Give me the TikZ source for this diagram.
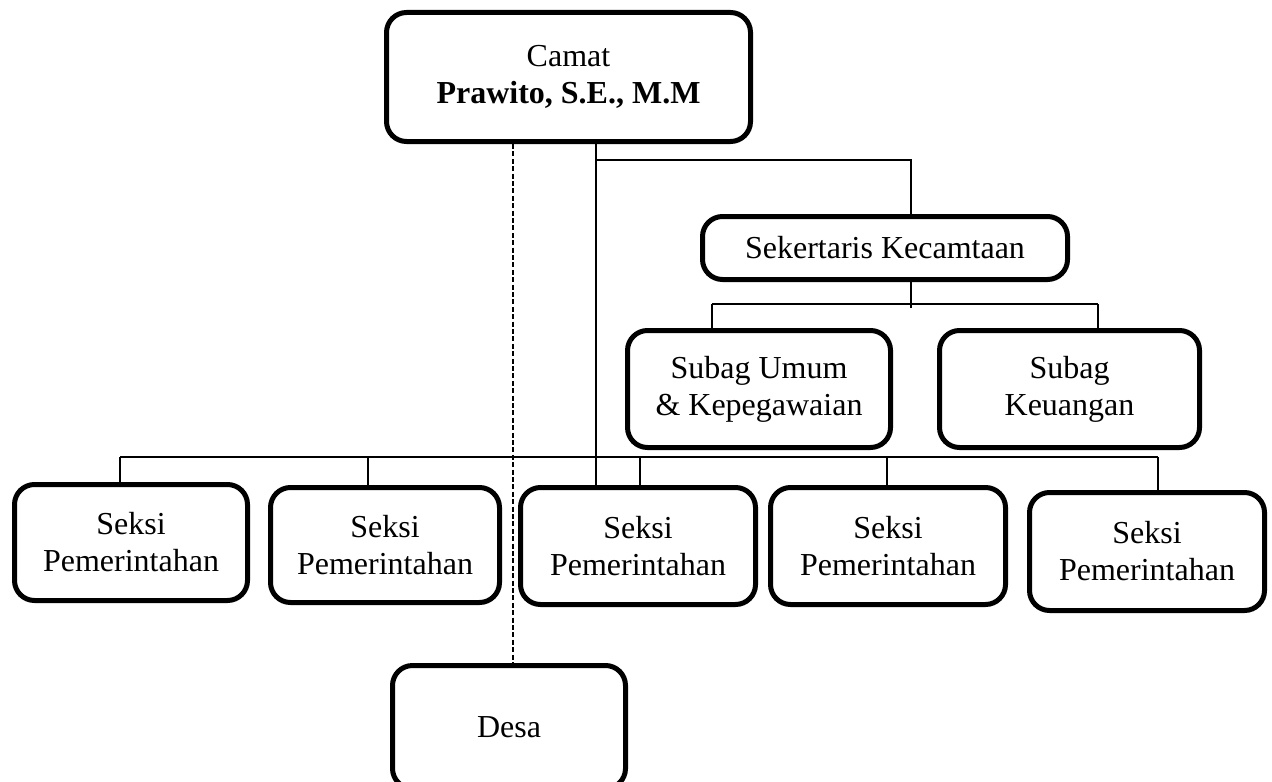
\documentclass[tikz,border=0pt]{standalone}
\usepackage{fontspec}
\setmainfont{Liberation Serif}
\begin{document}
\begin{tikzpicture}[x=0.5pt,y=-0.5pt,
  box/.style={draw, line width=2.5pt, rounded corners=10pt, align=center, inner sep=0pt,
    font=\fontsize{16pt}{18.5pt}\selectfont},
  conn/.style={line width=1pt},
  dashline/.style={line width=1pt, dash pattern=on 2.5pt off 1.2pt}]
\useasboundingbox (0,0) rectangle (1272,781);
\clip (0,0) rectangle (1272,781);
% nodes
\node[box, minimum width=182pt, minimum height=64.5pt] (camat) at (568.5,77) {Camat\\\textbf{Prawito, S.E., M.M}};
\node[box, minimum width=182.5pt, minimum height=31.5pt] (sek) at (885,248) {Sekertaris Kecamtaan};
\node[box, minimum width=131.5pt, minimum height=58.5pt] (umum) at (759,389) {Subag Umum\\\& Kepegawaian};
\node[box, minimum width=130pt, minimum height=58.5pt] (keu) at (1069.5,389) {Subag\\Keuangan};
\node[box, minimum width=116.5pt, minimum height=58pt] (s1) at (131,542.5) {Seksi\\Pemerintahan};
\node[box, minimum width=114.5pt, minimum height=57.5pt] (s2) at (385,545) {Seksi\\Pemerintahan};
\node[box, minimum width=117.5pt, minimum height=58.5pt] (s3) at (638,546) {Seksi\\Pemerintahan};
\node[box, minimum width=117.5pt, minimum height=58.5pt] (s4) at (888,546) {Seksi\\Pemerintahan};
\node[box, minimum width=117.5pt, minimum height=59pt] (s5) at (1147,551.5) {Seksi\\Pemerintahan};
\node[box, minimum width=116.5pt, minimum height=61.5pt] (desa) at (509,727) {Desa};
% helper coordinates
\coordinate (xd) at (513,0);
\coordinate (xc) at (596,0);
\coordinate (tA) at (596,160);
\coordinate (tB) at (911,160);
\coordinate (sB) at (911,308);
\coordinate (hL) at (712,304);
\coordinate (hR) at (1098,304);
\coordinate (bL) at (120,457);
\coordinate (b2) at (368,457);
\coordinate (b3) at (640,457);
\coordinate (b4) at (887,457);
\coordinate (bR) at (1158,457);
% connectors
\draw[dashline] (camat.south -| xd) -- (desa.north -| xd);
\draw[conn] (camat.south -| xc) -- (s3.north -| xc);
\draw[conn] (tA) -- (tB) -- (sek.north -| tB);
\draw[conn] (sek.south -| sB) -- (sB);
\draw[conn] (hL) -- (hR);
\draw[conn] (hL) -- (umum.north -| hL);
\draw[conn] (hR) -- (keu.north -| hR);
\draw[conn] (bL) -- (bR);
\draw[conn] (bL) -- (s1.north -| bL);
\draw[conn] (b2) -- (s2.north -| b2);
\draw[conn] (b3) -- (s3.north -| b3);
\draw[conn] (b4) -- (s4.north -| b4);
\draw[conn] (bR) -- (s5.north -| bR);
\end{tikzpicture}
\end{document}
